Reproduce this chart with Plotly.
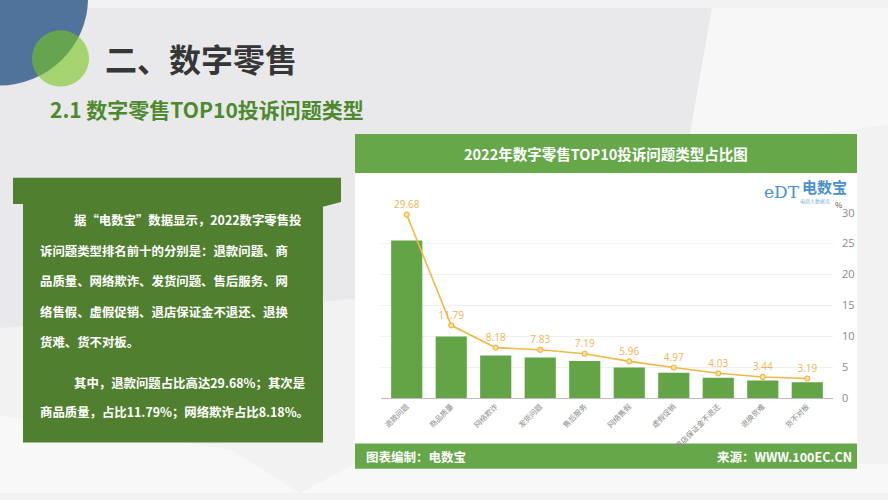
import plotly.graph_objects as go

W, H = 888, 500

categories = ["退款问题", "商品质量", "网络欺诈", "发货问题", "售后服务",
              "网络售假", "虚假促销", "退店保证金不退还", "退换货难", "货不对板"]
bar_values = [25.5, 10.0, 6.9, 6.6, 6.0, 4.95, 4.1, 3.3, 2.85, 2.6]
line_values = [29.68, 11.79, 8.18, 7.83, 7.19, 5.96, 4.97, 4.03, 3.44, 3.19]
y_ticks = [0, 5, 10, 15, 20, 25, 30]

para_lines = [
    ("据“电数宝”数据显示，2022数字零售投", True),
    ("诉问题类型排名前十的分别是：退款问题、商", False),
    ("品质量、网络欺诈、发货问题、售后服务、网", False),
    ("络售假、虚假促销、退店保证金不退还、退换", False),
    ("货难、货不对板。", False),
    ("其中，退款问题占比高达29.68%；其次是", True),
    ("商品质量，占比11.79%；网络欺诈占比8.18%。", False),
]
para_y = [219, 250, 281, 313, 344, 387, 417]

FONT = "Noto Sans CJK SC"


def px(x):
    return x / W


def py(y):
    return 1 - y / H


def path(points):
    return "M " + " L ".join(f"{px(x):.5f},{py(y):.5f}" for x, y in points) + " Z"


fig = go.Figure()

fig.add_trace(go.Bar(
    x=categories, y=bar_values,
    marker=dict(color="#63a447", line=dict(width=0)),
    width=0.7, hoverinfo="skip", showlegend=False,
))
fig.add_trace(go.Scatter(
    x=categories, y=line_values, mode="lines+markers+text",
    line=dict(color="#f2b744", width=1.6),
    marker=dict(size=5, color="#fbe2a8", line=dict(color="#f2b744", width=1.2)),
    text=[f"{v:.2f}" for v in line_values],
    textposition="top center",
    textfont=dict(color="#f0b452", size=10, family="Open Sans"),
    cliponaxis=False, showlegend=False,
))

shapes = []
# background
shapes.append(dict(type="path", xref="paper", yref="paper", layer="below",
                   path=path([(0, 0), (712, 0), (690, 130), (355, 130), (355, 300), (0, 330)]),
                   fillcolor="#e9e9eb", line=dict(width=0)))
shapes.append(dict(type="path", xref="paper", yref="paper", layer="below",
                   path=path([(712, 0), (888, 0), (888, 120), (820, 130), (690, 130)]),
                   fillcolor="#f7f7f7", line=dict(width=0)))
shapes.append(dict(type="path", xref="paper", yref="paper", layer="below",
                   path=path([(0, 420), (230, 455), (300, 500), (0, 500)]),
                   fillcolor="#f8f8f8", line=dict(width=0)))
shapes.append(dict(type="path", xref="paper", yref="paper", layer="below",
                   path=path([(300, 500), (355, 470), (888, 470), (888, 500)]),
                   fillcolor="#f8f8f8", line=dict(width=0)))
# decorative circles
shapes.append(dict(type="circle", xref="paper", yref="paper", layer="below",
                   x0=px(-92), x1=px(88), y0=py(80), y1=py(-100),
                   fillcolor="#50739b", line=dict(width=0)))
shapes.append(dict(type="circle", xref="paper", yref="paper", layer="below",
                   x0=px(32), x1=px(89), y0=py(81), y1=py(23),
                   fillcolor="rgba(118,197,30,0.6)", line=dict(width=0)))
# text box
shapes.append(dict(type="path", xref="paper", yref="paper", layer="below",
                   path=path([(13, 175), (341, 175), (341, 200), (323, 205), (323, 448),
                              (23, 448), (23, 202), (13, 202)]),
                   fillcolor="#517f30", line=dict(width=0)))
# chart panel
shapes.append(dict(type="rect", xref="paper", yref="paper", layer="below",
                   x0=px(355), x1=px(857), y0=py(475), y1=py(130),
                   fillcolor="#ffffff", line=dict(width=0)))
shapes.append(dict(type="rect", xref="paper", yref="paper", layer="below",
                   x0=px(355), x1=px(857), y0=py(170), y1=py(130),
                   fillcolor="#66a74a", line=dict(width=0)))
shapes.append(dict(type="rect", xref="paper", yref="paper", layer="below",
                   x0=px(355), x1=px(857), y0=py(475), y1=py(449),
                   fillcolor="#66a74a", line=dict(width=0)))

annotations = []


def ann(text, x, y, size, color, xanchor="left", bold=False, family=FONT):
    t = f"<b>{text}</b>" if bold else text
    annotations.append(dict(text=t, x=px(x), y=py(y), xref="paper", yref="paper",
                            xanchor=xanchor, yanchor="middle", showarrow=False,
                            font=dict(size=size, color=color, family=family)))


ann("二、数字零售", 103, 52, 32, "#363636", bold=True)
ann("2.1 数字零售TOP10投诉问题类型", 48, 104, 21, "#4d8a2e", bold=True)
ann("2022年数字零售TOP10投诉问题类型占比图", 606, 150, 14.5, "#ffffff", xanchor="center", bold=True)
ann("图表编制：电数宝", 364, 462, 12.5, "#ffffff", bold=True)
ann("来源：WWW.100EC.CN", 854, 462, 12.5, "#ffffff", xanchor="right", bold=True)
ann("eDT", 762, 190, 17, "#4a90d0", family="DejaVu Serif")
ann("电数宝", 800, 184, 15, "#4a90d0", bold=True)
ann("电商大数据库", 798, 199, 5, "#7fb0dd")
ann("%", 833, 203, 8, "#555555")

for (line, indent), y in zip(para_lines, para_y):
    ann(line, 72 if indent else 38, y, 12.4, "#ffffff", bold=True)

fig.update_layout(
    width=W, height=H,
    margin=dict(l=0, r=0, t=0, b=0),
    paper_bgcolor="#f2f2f3",
    plot_bgcolor="rgba(0,0,0,0)",
    shapes=shapes, annotations=annotations,
    bargap=0.3,
    xaxis=dict(domain=[px(381), px(833)], tickangle=-45,
               tickfont=dict(size=7.5, color="#8a8a8a", family=FONT),
               showline=True, linecolor="#bdbdbd", linewidth=1, ticks="",
               showgrid=False, fixedrange=True),
    yaxis=dict(domain=[py(402.3), py(211)], range=[0, 30], side="right",
               tickvals=y_ticks, tickfont=dict(size=11, color="#8a8a8a", family="Open Sans"),
               showgrid=True, gridcolor="#f0f0f0", zeroline=False, showline=False,
               ticks="", ticklabelstandoff=8, fixedrange=True),
)

fig.write_html("out.html")
